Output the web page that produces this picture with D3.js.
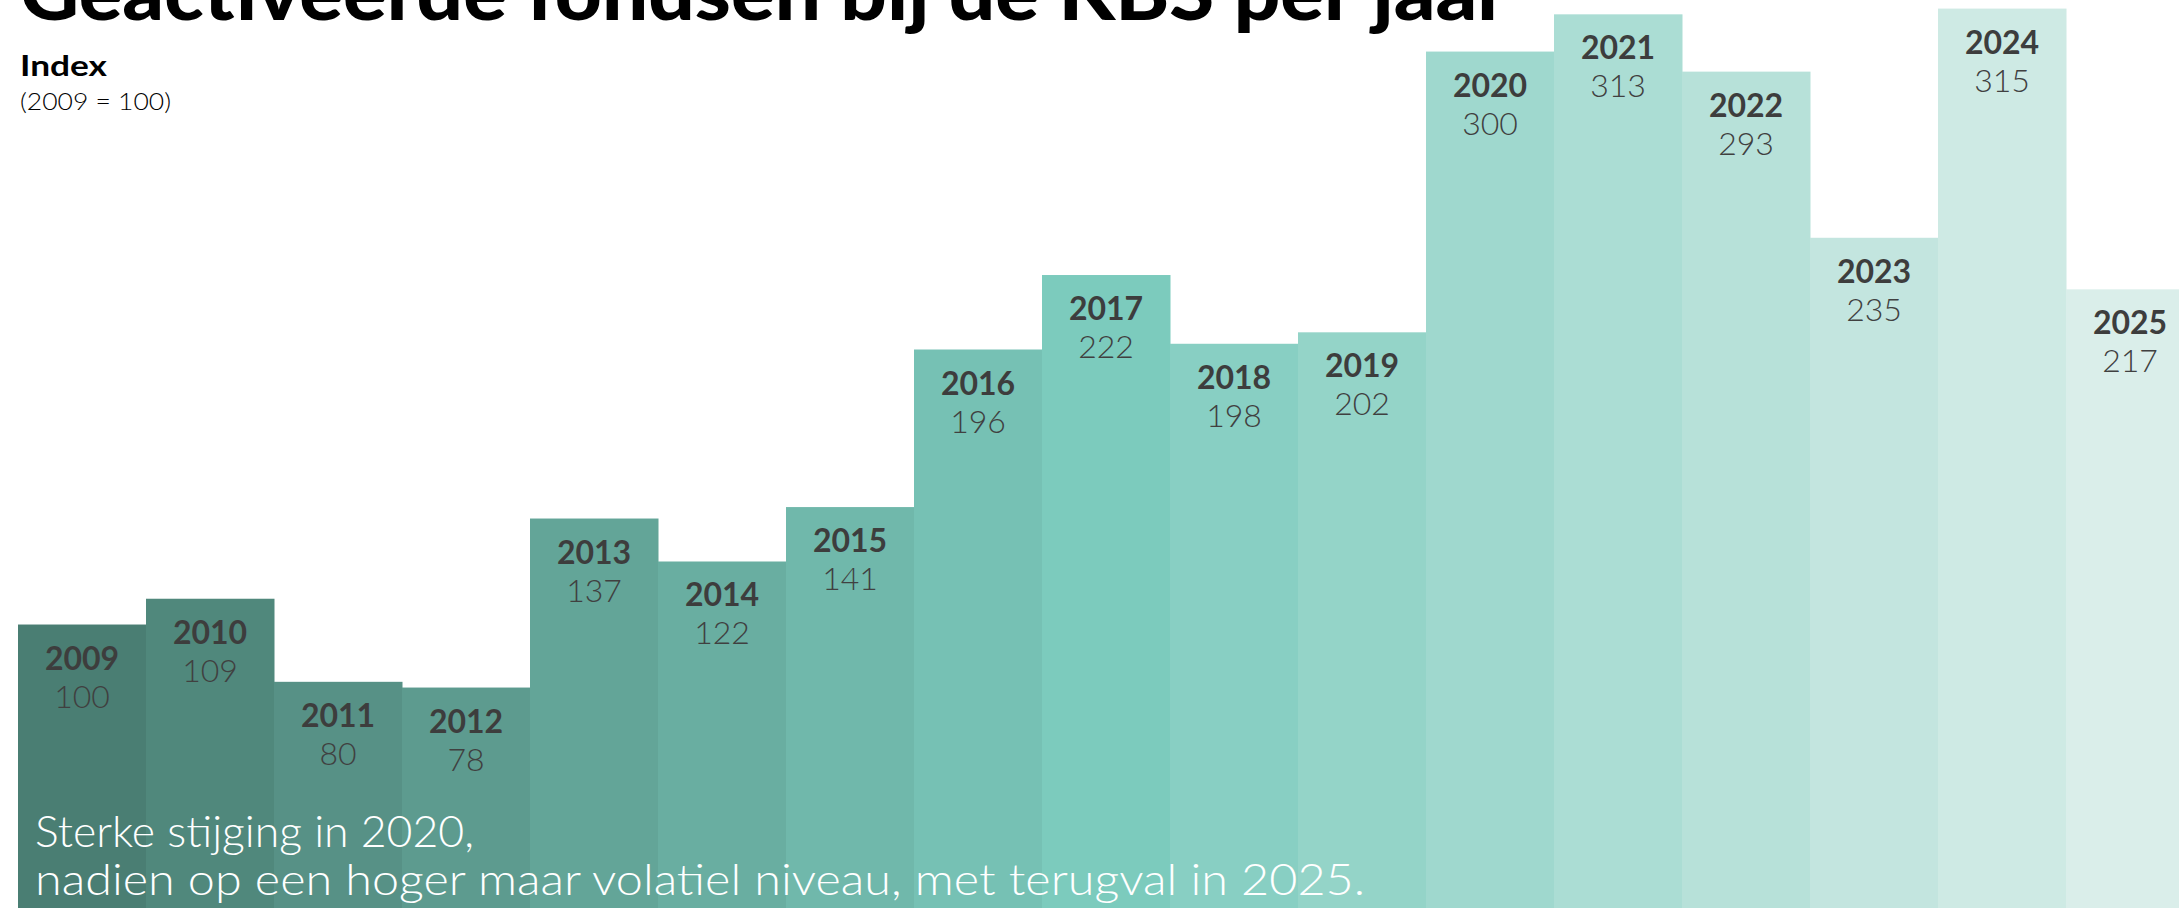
<!DOCTYPE html>
<html>

<head>
  <meta charset="UTF-8" />
  <title>Geactiveerde fondsen bij de KBS per jaar</title>
  <style>
    body {
      margin: 0;
      overflow: hidden;
      background: white;
    }

    svg text {
      font-family: Lato, "Open Sans", sans-serif;
    }
  </style>
  <script src="https://d3js.org/d3.v7.min.js"></script>
</head>

<body>
  <div id="chart"></div>
  <script>
    const years = ["2009", "2010", "2011", "2012", "2013", "2014", "2015", "2016", "2017",
      "2018", "2019", "2020", "2021", "2022", "2023", "2024", "2025"];
    const values = [100, 109, 80, 78, 137, 122, 141, 196, 222, 198, 202, 300, 313, 293, 235, 315, 217];

    const titleText = "Geactiveerde fondsen bij de KBS per jaar";
    const axisTitle = "Index";
    const axisNote = "(2009 = 100)";
    const noteLines = ["Sterke stijging in 2020,",
      "nadien op een hoger maar volatiel niveau, met terugval in 2025."];

    let width = 2179,
      height = 908;

    let svg = d3.select("#chart")
      .append("svg")
      .attr("width", width)
      .attr("height", height);

    /* scales */
    let xScale = d3.scaleBand()
      .domain(years)
      .range([18, 18 + years.length * 128])
      .padding(0);

    let yScale = d3.scaleLinear()
      .domain([0, 318])
      .range([911, 0]);

    // dark teal -> mid teal (2017) -> very light
    let colorScale = d3.scaleLinear()
      .domain([0, 8, 16])
      .range(["#4a7e73", "#7ccbbd", "#daeeea"])
      .interpolate(d3.interpolateRgb);

    /* bars */
    svg.selectAll("rect.bar")
      .data(values)
      .enter()
      .append("rect")
      .attr("class", "bar")
      .attr("x", (d, i) => xScale(years[i]))
      .attr("y", d => yScale(d))
      .attr("width", xScale.bandwidth() + 0.5)
      .attr("height", d => yScale(0) - yScale(d))
      .attr("fill", (d, i) => colorScale(i));

    /* year + value labels */
    svg.selectAll("text.year")
      .data(values)
      .enter()
      .append("text")
      .attr("class", "year")
      .attr("x", (d, i) => xScale(years[i]) + xScale.bandwidth() / 2)
      .attr("y", d => yScale(d) + 45)
      .attr("text-anchor", "middle")
      .style("font-size", "32px")
      .style("font-weight", 700)
      .style("fill", "#3d3d3d")
      .text((d, i) => years[i]);

    svg.selectAll("text.value")
      .data(values)
      .enter()
      .append("text")
      .attr("class", "value")
      .attr("x", (d, i) => xScale(years[i]) + xScale.bandwidth() / 2)
      .attr("y", d => yScale(d) + 83)
      .attr("text-anchor", "middle")
      .style("font-size", "32px")
      .style("font-weight", 300)
      .style("fill", "#404040")
      .text(d => d);

    /* title, cut off at the top like the original */
    svg.append("text")
      .attr("x", 20)
      .attr("y", 20)
      .attr("textLength", 1488)
      .attr("lengthAdjust", "spacingAndGlyphs")
      .style("font-size", "76px")
      .style("font-weight", 900)
      .style("fill", "#000")
      .text(titleText);

    svg.append("text")
      .attr("x", 20)
      .attr("y", 76)
      .attr("textLength", 87)
      .attr("lengthAdjust", "spacingAndGlyphs")
      .style("font-size", "28px")
      .style("font-weight", 700)
      .style("fill", "#000")
      .text(axisTitle);

    svg.append("text")
      .attr("x", 20)
      .attr("y", 110)
      .attr("textLength", 151)
      .attr("lengthAdjust", "spacingAndGlyphs")
      .style("font-size", "24px")
      .style("font-weight", 300)
      .style("fill", "#000")
      .text(axisNote);

    /* annotation at the bottom */
    let noteWidths = [439, 1330];
    svg.selectAll("text.note")
      .data(noteLines)
      .enter()
      .append("text")
      .attr("class", "note")
      .attr("x", 35)
      .attr("y", (d, i) => 847 + i * 48)
      .attr("textLength", (d, i) => noteWidths[i])
      .attr("lengthAdjust", "spacingAndGlyphs")
      .style("font-size", "43px")
      .style("font-weight", 300)
      .style("fill", "#ffffff")
      .text(d => d);
  </script>
</body>

</html>
